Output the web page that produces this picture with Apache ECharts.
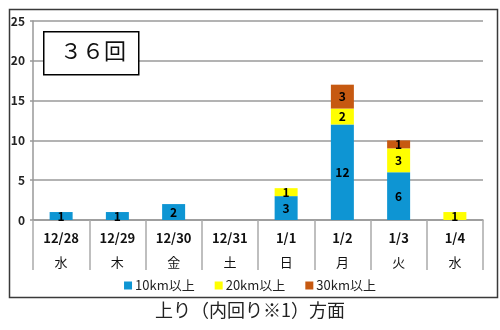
<!DOCTYPE html>
<html><head><meta charset="utf-8">
<script src="https://cdn.jsdelivr.net/npm/echarts@6/dist/echarts.min.js"></script>
<style>html,body{margin:0;padding:0;background:#fff}#c{width:500px;height:330px}</style>
</head><body><div id="c"></div>
<script>
var dates = ['12/28','12/29','12/30','12/31','1/1','1/2','1/3','1/4'];
var weekdays = ['水','木','金','土','日','月','火','水'];
var km10 = [1,1,2,0,3,12,6,0];
var km20 = [0,0,0,0,1,2,3,1];
var km30 = [0,0,0,0,0,3,1,0];
var seriesNames = ['10km以上','20km以上','30km以上'];
var yTicks = [0,5,10,15,20,25];

var font = '"Noto Sans CJK JP","Noto Sans",sans-serif';
var chart = echarts.init(document.getElementById('c'), null, {renderer:'canvas'});
var lbl = {show:true, position:'inside', color:'#000', fontSize:12, fontWeight:'bold', fontFamily:font,
  formatter:function(p){return p.value ? String(p.value) : '';}};
function mk(name, data, color){
  return {name:name, type:'bar', stack:'s', data:data, barWidth:23,
    itemStyle:{color:color}, label:lbl, emphasis:{disabled:true}};
}
chart.setOption({
  animation:false,
  textStyle:{fontFamily:font},
  grid:{left:33, right:17, top:21, bottom:110, containLabel:false},
  graphic:[
    {type:'rect', left:7, top:7, shape:{width:488, height:288}, style:{fill:'none', stroke:'#3a3a3a', lineWidth:1.5}, z:-1},
    {type:'rect', left:43, top:31, shape:{width:95, height:43}, style:{fill:'#fff', stroke:'#000', lineWidth:1.5}, z:100},
    {type:'text', left:60, top:40, style:{text:'３６回', font:'22px ' + font, fill:'#111'}, z:101},
    {type:'text', left:'center', top:301, style:{text:'上り（内回り※1）方面', font:'18px ' + font, fill:'#222'}}
  ],
  legend:{top:274, left:'center', itemWidth:8, itemHeight:8, itemGap:20, icon:'rect',
    textStyle:{fontSize:13, color:'#222', fontFamily:font, padding:[0,0,0,-2]}, data:seriesNames},
  xAxis:{type:'category', data:dates,
    axisLine:{lineStyle:{color:'#999', width:1.5}},
    axisTick:{show:true, length:50, lineStyle:{color:'#aaa', width:1.5}},
    axisLabel:{margin:6, interval:0, formatter:function(v, i){return '{d|' + v + '}\n{w|' + weekdays[i] + '}';},
      rich:{d:{fontSize:13, fontWeight:'bold', color:'#111', lineHeight:24, fontFamily:font},
            w:{fontSize:13, color:'#111', lineHeight:24, fontFamily:font}}}
  },
  yAxis:{type:'value', min:yTicks[0], max:yTicks[yTicks.length-1], interval:5,
    axisLine:{show:true, lineStyle:{color:'#999', width:1.5}},
    axisTick:{show:true, length:3, lineStyle:{color:'#999', width:1.5}},
    axisLabel:{fontSize:12, fontWeight:'bold', color:'#222', margin:8, fontFamily:font},
    splitLine:{lineStyle:{color:'#9a9a9a', width:1.5}}
  },
  series:[mk(seriesNames[0], km10, '#0E95D3'), mk(seriesNames[1], km20, '#FFFF00'), mk(seriesNames[2], km30, '#C65911')]
});
</script></body></html>
